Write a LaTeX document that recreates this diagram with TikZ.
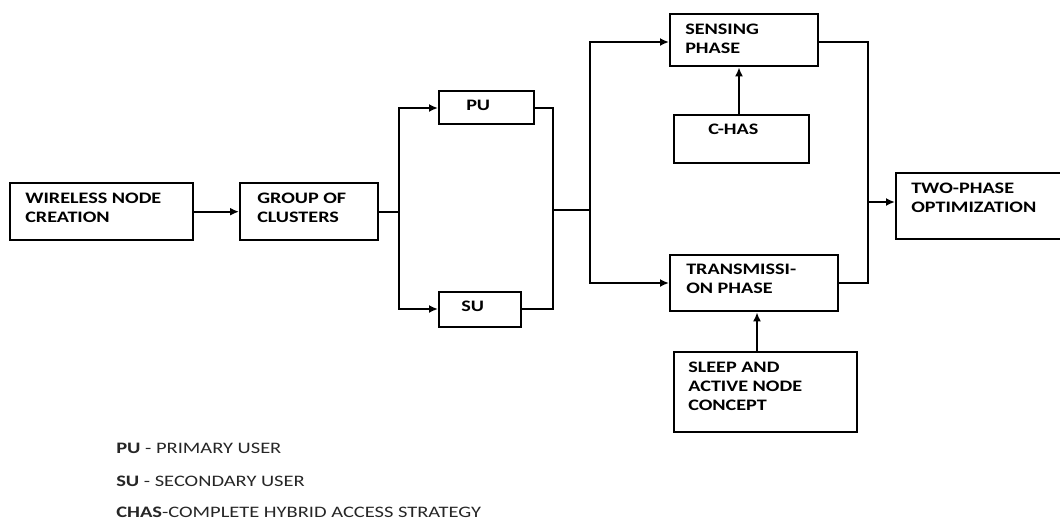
\documentclass[tikz,border=0pt]{standalone}
\usepackage{fontspec}
\setmainfont{Carlito}
\usetikzlibrary{arrows.meta}
\tikzset{
  box/.style={draw=black, line width=2.4pt, inner sep=0pt, anchor=north west},
  lbl/.style={font=\bfseries\fontsize{16}{19}\selectfont, anchor=base west, align=left, inner sep=0pt, xscale=1.26, transform shape},
  leg/.style={font=\fontsize{16}{19}\selectfont, anchor=base west, inner sep=0pt, xscale=1.28, transform shape, text=black!85},
  conn/.style={line width=2.4pt},
  arr/.style={line width=2.4pt, -{Latex[length=9pt,width=8pt]}}
}
\begin{document}
\begin{tikzpicture}[x=1pt,y=-1pt]
\useasboundingbox (0,0) rectangle (1060,520);
% boxes
\node[box, minimum width=183pt, minimum height=57pt] (wn) at (9,182) {};
\node[box, minimum width=138pt, minimum height=57pt] (gc) at (239,182) {};
\node[box, minimum width=95pt, minimum height=33pt] (pu) at (438,90) {};
\node[box, minimum width=82pt, minimum height=35pt] (su) at (438,291) {};
\node[box, minimum width=148pt, minimum height=52pt] (sp) at (669,13) {};
\node[box, minimum width=135pt, minimum height=48pt] (ch) at (673,114) {};
\node[box, minimum width=168pt, minimum height=56pt] (tp) at (669,254) {};
\node[box, minimum width=183pt, minimum height=80pt] (sa) at (673,351) {};
\node[box, minimum width=166pt, minimum height=66pt] (to) at (895,172) {};
% labels (anchored at the baseline of their last line)
\node[lbl] (twn) at (25,222) {WIRELESS NODE\\CREATION};
\node[lbl] (tgc) at (257,222) {GROUP OF\\CLUSTERS};
\node[lbl] (tpu) at (466,110) {PU};
\node[lbl] (tsu) at (461,311) {SU};
\node[lbl] (tsp) at (685,53) {SENSING\\PHASE};
\node[lbl] (tch) at (708,134) {C-HAS};
\node[lbl] (ttp) at (686,293) {TRANSMISSI-\\ON PHASE};
\node[lbl] (tsa) at (688,410) {SLEEP AND\\ACTIVE NODE\\CONCEPT};
\node[lbl] (tto) at (911,212) {TWO-PHASE\\OPTIMIZATION};
% legend
\node[leg] (l1) at (116,453) {\textbf{PU} - PRIMARY USER};
\node[leg] (l2) at (116,486) {\textbf{SU} - SECONDARY USER};
\node[leg] (l3) at (116,517) {\textbf{CHAS}-COMPLETE HYBRID ACCESS STRATEGY};
% coordinates
\coordinate (s1) at (gc.east -| 399,0);
\coordinate (s1t) at (399,108);
\coordinate (s1b) at (399,309);
\coordinate (m1t) at (553,108);
\coordinate (m1b) at (553,309);
\coordinate (m1) at (553,210);
\coordinate (s2) at (590,210);
\coordinate (s2t) at (590,42);
\coordinate (s2b) at (590,283);
\coordinate (m2t) at (868,42);
\coordinate (m2b) at (868,283);
\coordinate (m2) at (868,202);
% connectors
\draw[arr] (wn.east) -- (gc.west);
\draw[conn] (gc.east) -- (s1);
\draw[arr] (s1) -- (s1t) -- (pu.west |- s1t);
\draw[arr] (s1) -- (s1b) -- (su.west |- s1b);
\draw[conn] (pu.east |- m1t) -- (m1t) -- (m1b) -- (su.east |- m1b);
\draw[conn] (m1) -- (s2);
\draw[arr] (s2) -- (s2t) -- (sp.west |- s2t);
\draw[arr] (s2) -- (s2b) -- (tp.west |- s2b);
\draw[arr] (ch.north -| 739,0) -- (sp.south -| 739,0);
\draw[arr] (sa.north -| 757,0) -- (tp.south -| 757,0);
\draw[conn] (sp.east |- m2t) -- (m2t) -- (m2b) -- (tp.east |- m2b);
\draw[arr] (m2) -- (to.west |- m2);
\end{tikzpicture}
\end{document}
